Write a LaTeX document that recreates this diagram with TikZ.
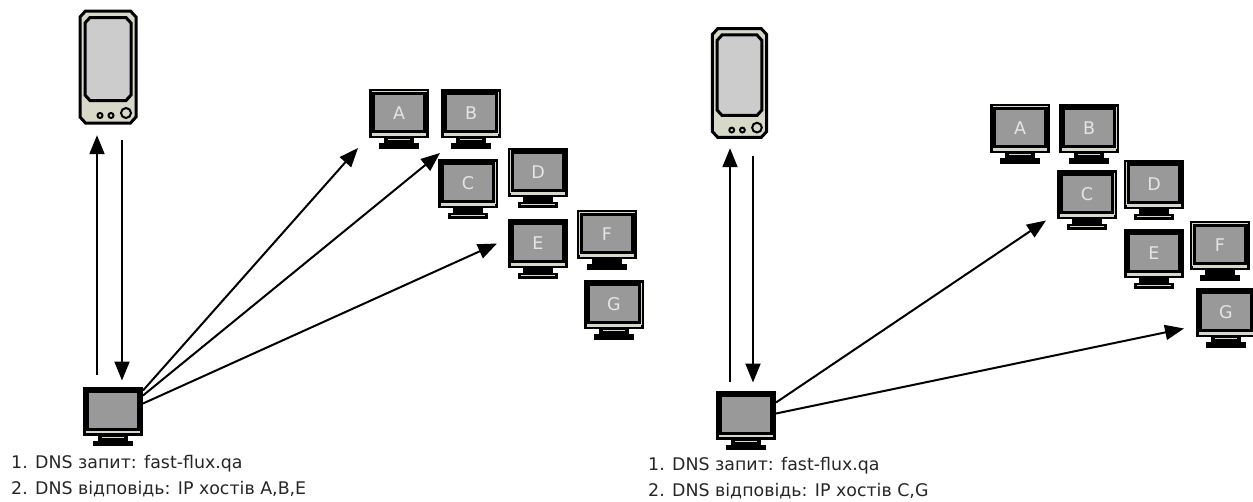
\documentclass[tikz,border=0pt]{standalone}
\usepackage{fontspec}
\usepackage{xcolor}
\setmainfont{DejaVu Sans}
\definecolor{screengray}{RGB}{153, 153, 153}
\definecolor{casebeige}{RGB}{216, 216, 200}
\definecolor{panelgray}{RGB}{204, 204, 204}
\usetikzlibrary{arrows.meta, calc}

\begin{document}
\begin{tikzpicture}[
    x=1pt, y=-1pt,
    flow/.style={-{Triangle[length=19pt,width=15pt]}, line width=2pt},
    caption/.style={anchor=west, inner sep=0pt, font=\fontsize{17.4}{20}\selectfont, text=black!85},
    screen/.style={rectangle, draw=black, fill=screengray, line width=6pt, minimum width=54pt, minimum height=43pt,
                  inner sep=0pt, text=white!90!black, font=\fontsize{17.5}{20}\selectfont},
    pics/monitor/.style={code={
        \node[screen] (-box) at (0,0) {#1};
        \fill[black] (-27,16.5) rectangle (27,24);
        \fill[casebeige] (-27,19.5) rectangle (27,22);
        \fill[black] (-15,24) rectangle (15,30);
        \fill[black] (-20,29.5) rectangle (20,35);
    }},
    pics/trimtop/.style={code={\fill[casebeige] (-27.5,-23) rectangle (27.5,-22);}},
    pics/trimleft/.style={code={\fill[casebeige] (-28,-23) rectangle (-27,20);}},
    pics/trimright/.style={code={\fill[casebeige] (27,-22) rectangle (28,20);}},
    pics/neckslit/.style={code={\fill[casebeige] (-11,25.5) rectangle (11,26.5);}},
    pics/footslit/.style={code={\fill[casebeige] (-17,31) rectangle (17,32.5);}},
    pics/server/.style={code={
        \node[minimum width=59pt, minimum height=114pt, inner sep=0pt] (-box) at (0,0) {};
        \draw[fill=casebeige, line width=3pt] (-22.5,-56) -- (22.5,-56) -- (28,-50) -- (28,50) -- (22.5,56)
            -- (-22.5,56) -- (-28,50) -- (-28,-50) -- cycle;
        \draw[fill=panelgray, line width=3pt] (-18,-49.5) -- (18,-49.5) -- (23,-44) -- (23,28) -- (18,33.5)
            -- (-18,33.5) -- (-23,28) -- (-23,-44) -- cycle;
        \draw[fill=casebeige, line width=2pt] (-8,48.5) circle (2.5);
        \draw[fill=casebeige, line width=2pt] (3,48.5) circle (2.5);
        \draw[fill=casebeige, line width=2pt] (18,46) circle (5);
    }}
]
    % left half
    \useasboundingbox (0,0) rectangle (1253,501);
    \pic (ldns) at (108,67) {server};
    \pic (lclient) at (113,411) {monitor={}};
    \pic at (113,411) {neckslit};
    \pic (lA) at (399,113.5) {monitor=A};
    \pic at (399,113.5) {trimtop};
    \pic at (399,113.5) {neckslit};
    \pic (lB) at (471,113.5) {monitor=B};
    \pic at (471,113.5) {trimright};
    \pic at (471,113.5) {neckslit};
    \pic (lC) at (468,183.5) {monitor=C};
    \pic at (468,183.5) {trimright};
    \pic at (468,183.5) {footslit};
    \pic (lD) at (538,172.5) {monitor=D};
    \pic at (538,172.5) {trimleft};
    \pic at (538,172.5) {footslit};
    \pic (lE) at (538,243.5) {monitor=E};
    \pic at (538,243.5) {footslit};
    \pic (lF) at (607,234.5) {monitor=F};
    \pic at (607,234.5) {trimtop};
    \pic at (607,234.5) {trimleft};
    \pic (lG) at (614,304.5) {monitor=G};
    \pic at (614,304.5) {trimright};
    \pic at (614,304.5) {neckslit};
    \node[caption] (lq) at (11,464) {1. DNS запит: fast-flux.qa};
    \node[caption] (la) at (11,489) {2. DNS відповідь: IP хостів A,B,E};

    \draw[flow] ($(lclient-box.north)+(-16,-12)$) -- ($(ldns-box.south)+(-11,11)$);
    \draw[flow] ($(ldns-box.south)+(14,16)$) -- ($(lclient-box.north)+(9,-6)$);
    \draw[flow] ($(lclient-box.north east)+(0,4)$) -- ($(lA-box.south west)+(-11,10)$);
    \draw[flow] ($(lclient-box.north east)+(0,9)$) -- ($(lB-box.south west)+(-1,15)$);
    \draw[flow] ($(lclient-box.north east)+(0,17)$) -- ($(lE-box.west)+(-11,0)$);

    % right half
    \pic[scale=.97] (rdns) at (739.5,83) {server};
    \pic (rclient) at (746,415) {monitor={}};
    \pic at (746,415) {neckslit};
    \pic (rA) at (1020,128.5) {monitor=A};
    \pic at (1020,128.5) {trimtop};
    \pic at (1020,128.5) {neckslit};
    \pic (rB) at (1089,128.5) {monitor=B};
    \pic at (1089,128.5) {trimright};
    \pic at (1089,128.5) {neckslit};
    \pic (rC) at (1087,194.5) {monitor=C};
    \pic at (1087,194.5) {trimright};
    \pic at (1087,194.5) {footslit};
    \pic (rD) at (1154,184.5) {monitor=D};
    \pic at (1154,184.5) {trimleft};
    \pic at (1154,184.5) {footslit};
    \pic (rE) at (1154,253.5) {monitor=E};
    \pic at (1154,253.5) {footslit};
    \pic (rF) at (1220,245.5) {monitor=F};
    \pic at (1220,245.5) {trimtop};
    \pic at (1220,245.5) {trimleft};
    \pic (rG) at (1226,312.5) {monitor=G};
    \pic at (1226,312.5) {trimright};
    \pic at (1226,312.5) {neckslit};
    \node[caption] (rq) at (648,466) {1. DNS запит: fast-flux.qa};
    \node[caption] (ra) at (648,491) {2. DNS відповідь: IP хостів C,G};

    \draw[flow] ($(rclient-box.north)+(-16,-9)$) -- ($(rdns-box.south)+(-9.5,8)$);
    \draw[flow] ($(rdns-box.south)+(13.5,16)$) -- ($(rclient-box.north)+(7,-8)$);
    \draw[flow] ($(rclient-box.north east)+(0,12)$) -- ($(rC-box.west)+(-11,26)$);
    \draw[flow] ($(rclient-box.north east)+(0,23)$) -- ($(rG-box.west)+(-12,16)$);
\end{tikzpicture}
\end{document}
